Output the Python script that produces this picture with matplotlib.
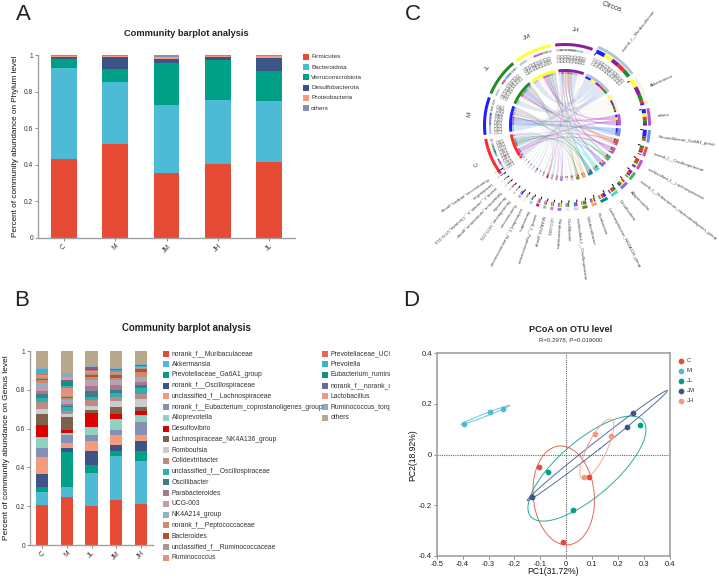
import numpy as np
import matplotlib
matplotlib.use('Agg')
import matplotlib.pyplot as plt
from matplotlib.patches import Polygon, PathPatch, Rectangle
from matplotlib.path import Path

plt.rcParams['font.family'] = ['Liberation Sans', 'DejaVu Sans']

W, H = 719, 578
TXT = '#333333'
GREY = '#a0a0a0'

# Panel A: phylum level
phylum_groups = ['C', 'M', 'JM', 'JH', 'JL']
phylum_names = ['Firmicutes', 'Bacteroidota', 'Verrucomicrobiota', 'Desulfobacterota', 'Proteobacteria', 'others']
phylum_colors = ['#e64b35', '#4dbbd5', '#00a087', '#3c5488', '#f39b7f', '#8491b4']
firmicutes = [0.430, 0.515, 0.355, 0.407, 0.413]
bacteroidota = [0.500, 0.340, 0.373, 0.345, 0.335]
verruco = [0.048, 0.067, 0.227, 0.220, 0.167]
desulfo = [0.013, 0.068, 0.025, 0.018, 0.068]
proteo = [0.002, 0.003, 0.007, 0.005, 0.009]
phylum_others = [0.007, 0.007, 0.013, 0.005, 0.008]
phylum_values = [firmicutes, bacteroidota, verruco, desulfo, proteo, phylum_others]

# Panel B: genus level
genus_groups = ['C', 'M', 'JL', 'JM', 'JH']
genus_names = ['norank_f__Muribaculaceae', 'Akkermansia', 'Prevotellaceae_Ga6A1_group',
               'norank_f__Oscillospiraceae', 'unclassified_f__Lachnospiraceae',
               'norank_f__Eubacterium_coprostanoligenes_group', 'Alloprevotella', 'Desulfovibrio',
               'Lachnospiraceae_NK4A136_group', 'Romboutsia', 'Colidextribacter',
               'unclassified_f__Oscillospiraceae', 'Oscillibacter', 'Parabacteroides', 'UCG-003',
               'NK4A214_group', 'norank_f__Peptococcaceae', 'Bacteroides',
               'unclassified_f__Ruminococcaceae', 'Ruminococcus', 'Prevotellaceae_UCG-001',
               'Prevotella', 'Eubacterium_ruminantium_group', 'norank_f__norank_o__Clostridia_UCG-014',
               'Lactobacillus', 'Ruminococcus_torques_group', 'others']
genus_colors = ['#e64b35', '#4dbbd5', '#00a087', '#3c5488', '#f39b7f', '#8491b4', '#91d1c2', '#dc0000',
                '#7e6148', '#cccccc', '#bb8a84', '#2fb0b0', '#3a7d8c', '#a07a8e', '#c79aa8', '#8fb3c4',
                '#d0896a', '#b5502f', '#a8988a', '#e98f7e', '#dd6b5c', '#3cb4c8', '#1d8a80', '#6b6a90',
                '#e09c90', '#8fa9c8', '#b8a98c']
genus_values = [
    [.206, .248, .202, .233, .212], [.068, .052, .168, .227, .221], [.026, .178, .040, .022, .049],
    [.064, .022, .073, .035, .053], [.091, .025, .054, .049, .031], [.045, .040, .028, .029, .066],
    [.055, .010, .045, .055, .040], [.065, .017, .070, .027, .018], [.056, .068, .017, .033, .020],
    [.024, .015, .018, .032, .042], [.035, .017, .030, .023, .026], [.022, .018, .020, .017, .032],
    [.023, .005, .028, .018, .015], [.015, .010, .027, .025, .015], [.013, .015, .020, .015, .012],
    [.027, .008, .010, .010, .013], [.015, .009, .015, .010, .025], [.008, .008, .013, .018, .015],
    [.010, .005, .010, .007, .006], [.010, .038, .007, .008, .005], [.004, .007, .005, .004, .004],
    [.023, .005, .003, .003, .002], [.001, .018, .005, .003, .002], [.001, .012, .007, .003, .002],
    [.002, .015, .005, .002, .002], [.002, .020, .005, .002, .003], [.089, .115, .075, .090, .069]]

# Panel C: same table, "others" goes third on the circle
circos_order = [0, 1, 26, 2, 3, 4, 5, 6, 7, 8, 9, 10, 11, 12, 13, 14, 15, 16, 17, 18, 19, 20, 21, 22, 23, 24, 25]
circos_taxa_colors = ['#b0c4de', '#faf0e6', '#ba55d3', '#6495ed', '#cd5c5c', '#ba55d3', '#3cb371', '#7b68ee',
                      '#40e0d0', '#008b8b', '#f4a460', '#6b8e23', '#c6d2ec', '#e6e6fa', '#9370db', '#da70d6',
                      '#66cdaa', '#c71585', '#87cefa', '#eee8aa', '#dda0dd', '#8fbc8f', '#b0e0e6', '#d8bfd8',
                      '#f5deb3', '#add8e6', '#ffdab9']
circos_group_colors = ['#ff2a2a', '#1f1fff', '#228b22', '#ffff33', '#8b1f9b']

# Panel D: PCoA
pcoa_names = ['C', 'M', 'JL', 'JM', 'JH']
pcoa_colors = ['#e64b35', '#4dbbd5', '#00a087', '#3c5488', '#f39b7f']
pc1 = [[-.105, .088, -.013], [-.395, -.296, -.245], [.286, -.072, .025], [.259, .233, -.134], [.174, .111, .068]]
pc2 = [[-.051, -.090, -.343], [.121, .168, .179], [.118, -.067, -.218], [.163, .109, -.166], [.072, .082, -.090]]


def px_axes(fig, left, top, right, bottom):
    return fig.add_axes([left / W, 1 - bottom / H, (right - left) / W, (bottom - top) / H])


def style_axis(ax):
    for side in ['top', 'right']:
        ax.spines[side].set_visible(False)
    for side in ['left', 'bottom']:
        ax.spines[side].set_color(GREY)
        ax.spines[side].set_linewidth(1.0)
    ax.tick_params(length=2, width=0.6, color='#777777', labelsize=4.8, labelcolor=TXT, pad=1.5)


def stacked(ax, groups, values, colors, width):
    x = np.arange(len(groups))
    bottom = np.zeros(len(groups))
    for vals, col in zip(values, colors):
        ax.bar(x, vals, width, bottom=bottom, color=col, linewidth=0)
        bottom += np.array(vals)
    ax.set_xlim(-0.5, len(groups) - 0.5)
    ax.set_ylim(0, 1)
    ax.set_xticks(x)
    ax.set_xticklabels(groups, rotation=45)
    ax.set_yticks([0, 0.2, 0.4, 0.6, 0.8, 1])
    ax.set_yticklabels(['0', '0.2', '0.4', '0.6', '0.8', '1'])
    style_axis(ax)


fig = plt.figure(figsize=(W / 100, H / 100), dpi=100)

ax_a = px_axes(fig, 38, 55, 295, 238)
stacked(ax_a, phylum_groups, phylum_values, phylum_colors, 0.5)
ax_b = px_axes(fig, 30, 351, 153, 545)
stacked(ax_b, genus_groups, genus_values, genus_colors, 0.5)

# overlay in image pixels for texts, legends and the circos
pax = fig.add_axes([0, 0, 1, 1], zorder=5)
pax.set_xlim(0, W)
pax.set_ylim(H, 0)
pax.axis('off')
pax.patch.set_alpha(0)

pax.text(186, 34, 'Community barplot analysis', ha='center', va='center', fontsize=6.7, fontweight='bold', color='#222222')
pax.text(186, 328, 'Community barplot analysis', ha='center', va='center', fontsize=6.9, fontweight='bold', color='#222222')
pax.text(16, 146, 'Percent of community abundance on Phylum level', rotation=90, ha='center', va='center', fontsize=5.9, color='#111111')
pax.text(6.5, 448, 'Percent of community abundance on Genus level', rotation=90, ha='center', va='center', fontsize=6.05, color='#111111')

for letter, lx, ly in [('A', 23, 15), ('B', 22, 300), ('C', 413, 14), ('D', 411, 301)]:
    pax.text(lx, ly, letter, ha='center', va='center', fontsize=16, fontweight='light', color='#222222')

for i, (name, col) in enumerate(zip(phylum_names, phylum_colors)):
    y = 57 + i * 10.2
    pax.add_patch(Rectangle((303, y - 3), 6, 6, color=col, lw=0))
    pax.text(311, y, name, va='center', fontsize=4.6, color=TXT)

# second legend column runs off its box in the original
clip_rect = Rectangle((0, 0), 390, H, transform=pax.transData)
for i, (name, col) in enumerate(zip(genus_names, genus_colors)):
    col_x = 163 if i < 20 else 322
    y = 353.5 + (i if i < 20 else i - 20) * 10.74
    pax.add_patch(Rectangle((col_x, y - 3), 6, 6, color=col, lw=0))
    t = pax.text(col_x + 8.5, y, name, va='center', fontsize=4.85, color=TXT, clip_on=True)
    t.set_clip_path(clip_rect)

# ---- Panel C ----
CX, CY = 565, 125
GAP = 3.0
DEG = 27.0  # degrees per unit of abundance


def pol(theta, r):
    t = np.radians(theta)
    return np.column_stack([CX + r * np.sin(t), CY - r * np.cos(t)])


def ring(a0, a1, r0, r1, color, z=3):
    th = np.linspace(a0, a1, max(3, int(abs(a1 - a0)) + 3))
    pts = np.vstack([pol(th, r1), pol(th[::-1], r0)])
    pax.add_patch(Polygon(pts, closed=True, facecolor=color, edgecolor='none', zorder=z))


def chord(a0, a1, b0, b1, r, color):
    tha = np.linspace(a0, a1, max(3, int(a1 - a0) + 3))
    thb = np.linspace(b0, b1, max(3, int(b1 - b0) + 3))
    pa, pb = pol(tha, r), pol(thb, r)
    c = [CX, CY]
    verts = list(pa) + [c, pb[0]] + list(pb[1:]) + [c, pa[0]]
    codes = [Path.MOVETO] + [Path.LINETO] * (len(pa) - 1) + [Path.CURVE3, Path.CURVE3] + \
            [Path.LINETO] * (len(pb) - 1) + [Path.CURVE3, Path.CURVE3]
    pax.add_patch(PathPatch(Path(verts, codes), facecolor=color, edgecolor='none', alpha=0.42, zorder=2))


table = np.array([genus_values[i] for i in circos_order])
taxa_names = [genus_names[i] for i in circos_order]
group_start = 233.0
taxa_start = group_start + 5 * (DEG + GAP)   # taxa follow the groups round the circle

group_pos = {}
a = group_start
for g in range(5):
    span = table[:, g].sum() * DEG
    group_pos[g] = (a, a + span)
    a += span + GAP
taxa_pos = {}
a = taxa_start - 360
for k in range(len(taxa_names)):
    span = table[k].sum() * DEG
    taxa_pos[k] = (a, a + span)
    a += span + GAP

chord_jobs = []
g_slots = {}
for g in range(5):
    a0, a1 = group_pos[g]
    order = np.argsort(-table[:, g])
    if g == 4:
        # JH lies next to the taxa so its biggest links sit on the near side
        pos = a1
        for k in order:
            w = table[k, g] * DEG
            g_slots[(k, g)] = (pos - w, pos)
            pos -= w
    else:
        pos = a0
        for k in order:
            w = table[k, g] * DEG
            g_slots[(k, g)] = (pos, pos + w)
            pos += w
    # outer colored arc and thin stack inside it
    ring(a0, a1, 79, 82, circos_group_colors[g])
    ring(a0, a1, 53, 56, circos_group_colors[g])
    for k in order:
        s0, s1 = g_slots[(k, g)]
        ring(s0, s1, 74, 76, circos_taxa_colors[k])
        ring(s0, s1, 51, 53, circos_taxa_colors[k])
    mid = (a0 + a1) / 2
    lab = pol(mid, 96)[0]
    pax.text(lab[0], lab[1], genus_groups[g], ha='center', va='center', fontsize=4.4, color=TXT, rotation=-mid)
    # scale numbers
    for v in np.arange(0.1, 1.0, 0.1):
        th = a0 + v * DEG
        p = pol(th, 63)[0]
        pax.text(p[0], p[1], '%.2f' % v, rotation=90 - th, rotation_mode='anchor', va='center', ha='left',
                 fontsize=3.3, color='#666666')

for k, name in enumerate(taxa_names):
    a0, a1 = taxa_pos[k]
    col = circos_taxa_colors[k]
    ring(a0, a1, 83, 86, col)
    ring(a0, a1, 53, 56, col)
    order = np.argsort(-table[k])
    pos = a0
    for g in order:
        w = table[k, g] * DEG
        ring(pos, pos + w, 78, 82, circos_group_colors[g])
        ring(pos, pos + w, 51, 53, circos_group_colors[g])
        chord_jobs.append((w, g_slots[(k, g)], (pos, pos + w), col))
        pos += w
    # start tick of each sector
    tick = pol(np.array([a0, a0]), np.array([76.0, 77.5]))
    pax.plot(tick[:, 0], tick[:, 1], color='black', lw=0.7, zorder=4)
    mid = (a0 + a1) / 2
    lab = pol(mid, 93.5)[0]
    pax.text(lab[0], lab[1], name, rotation=90 - mid, rotation_mode='anchor', ha='left', va='center',
             fontsize=3.15, color='#444444')
    if a1 - a0 > 25:
        for v in np.arange(0.1, table[k].sum(), 0.1):
            th = a0 + v * DEG
            p = pol(th, 66)[0]
            pax.text(p[0], p[1], '%.2f' % v, rotation=90 - th, rotation_mode='anchor', va='center', ha='left',
                     fontsize=3.3, color='#666666')

for w, gs, ts, col in sorted(chord_jobs, key=lambda j: -j[0]):
    chord(gs[0], gs[1], ts[0], ts[1], 51, col)

pax.text(612, 7, 'Circos', ha='center', va='center', fontsize=5.2, rotation=-20, color=TXT)

# ---- Panel D ----
ax_d = px_axes(fig, 436.7, 353, 670, 556)
NSTD = 1.23
for xs, ys, col, name in zip(pc1, pc2, pcoa_colors, pcoa_names):
    ax_d.scatter(xs, ys, s=17, color=col, linewidths=0, zorder=4)
    vals, vecs = np.linalg.eigh(np.cov(xs, ys))
    t = np.linspace(0, 2 * np.pi, 200)
    pts = vecs @ (NSTD * np.sqrt(np.maximum(vals, 0))[:, None] * np.vstack([np.cos(t), np.sin(t)]))
    ax_d.plot(np.mean(xs) + pts[0], np.mean(ys) + pts[1], color=col, lw=0.7, alpha=0.85, zorder=3)
ax_d.axhline(0, color='#666666', lw=0.8, ls=(0, (1, 1)), zorder=1)
ax_d.axvline(0, color='#666666', lw=0.8, ls=(0, (1, 1)), zorder=1)
ax_d.set_xlim(-0.5, 0.4)
ax_d.set_ylim(-0.4, 0.4)
ax_d.set_xticks(np.arange(-0.5, 0.41, 0.1))
ax_d.set_xticklabels(['-0.5', '-0.4', '-0.3', '-0.2', '-0.1', '0', '0.1', '0.2', '0.3', '0.4'])
ax_d.set_yticks([-0.4, -0.2, 0, 0.2, 0.4])
ax_d.set_yticklabels(['-0.4', '-0.2', '0', '0.2', '0.4'])
for s in ax_d.spines.values():
    s.set_color(GREY)
    s.set_linewidth(1.2)
ax_d.tick_params(length=2, width=0.6, color='#777777', labelsize=5.5, labelcolor='#222222', pad=1.5)

pax.text(571, 330, 'PCoA on OTU level', ha='center', va='center', fontsize=6.6, fontweight='bold', color='#222222')
pax.text(571, 339.5, 'R=0.2978, P=0.019000', ha='center', va='center', fontsize=4.4, color=TXT)
pax.text(553, 572, 'PC1(31.72%)', ha='center', va='center', fontsize=6.2, color='#111111')
pax.text(413, 455, 'PC2(18.92%)', ha='center', va='center', rotation=90, fontsize=6.2, color='#111111')
for i, (name, col) in enumerate(zip(pcoa_names, pcoa_colors)):
    y = 360.7 + i * 10
    pax.scatter([681], [y], s=17, color=col, linewidths=0)
    pax.text(686.7, y, name, va='center', fontsize=4.4, color=TXT)

fig.savefig('out.png', dpi=100)
